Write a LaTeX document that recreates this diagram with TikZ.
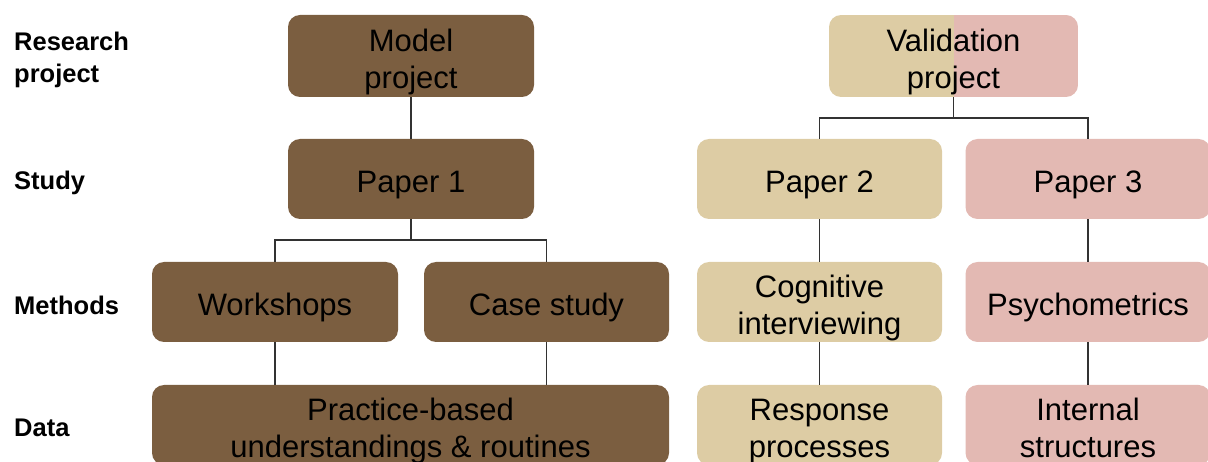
\documentclass[tikz,border=0pt]{standalone}
\usepackage{fontspec}
\setmainfont{Liberation Sans}
\definecolor{brownbox}{RGB}{123,94,64}
\definecolor{tanbox}{RGB}{221,204,164}
\definecolor{pinkbox}{RGB}{227,185,179}
\definecolor{linec}{RGB}{50,50,50}
\tikzset{
  box/.style={rounded corners=12pt, minimum width=245pt, minimum height=80pt,
    inner sep=2pt, align=center, text=black, text height=27.5pt, text depth=0pt,
    font=\fontsize{31}{37}\selectfont},
  two/.style={text height=64.5pt},
  bbox/.style={box, fill=brownbox},
  tbox/.style={box, fill=tanbox},
  pbox/.style={box, fill=pinkbox},
  rowlab/.style={anchor=west, align=left, inner sep=0pt,
    font=\fontsize{25.5}{32}\selectfont\bfseries},
  conn/.style={draw=linec, line width=1.3pt},
}
\begin{document}
\begin{tikzpicture}[x=1pt,y=-1pt]
\useasboundingbox (0,0) rectangle (1208,462);
% row labels
\node[rowlab] (lrp) at (14,60) {Research\\project};
\node[rowlab] (lst) at (14,183) {Study};
\node[rowlab] (lme) at (14,305) {Methods};
\node[rowlab] (lda) at (14,428) {Data};
% boxes
\node[bbox, two, minimum width=246pt, minimum height=82pt] (mp) at (411,56) {Model\\project};
\node[box, two, minimum width=249pt, minimum height=82pt,
  path picture={
    \fill[tanbox, sharp corners] (path picture bounding box.south west) rectangle (path picture bounding box.north);
    \fill[pinkbox, sharp corners] (path picture bounding box.south) rectangle (path picture bounding box.north east);
  }] (vp) at (953.5,56) {Validation\\project};
\node[bbox, minimum width=246pt] (p1) at (411,179) {Paper 1};
\node[tbox] (p2) at (819.5,179) {Paper 2};
\node[pbox] (p3) at (1088,179) {Paper 3};
\node[bbox, minimum width=246pt] (ws) at (275,302) {Workshops};
\node[bbox] (cs) at (546.5,302) {Case study};
\node[tbox, two] (ci) at (819.5,302) {Cognitive\\interviewing};
\node[pbox] (ps) at (1088,302) {Psychometrics};
\node[bbox, two, minimum width=517pt] (pb) at (410.5,425) {Practice-based\\understandings \& routines};
\node[tbox, two] (rp) at (819.5,425) {Response\\processes};
\node[pbox, two] (is) at (1088,425) {Internal\\structures};
% connectors
\draw[conn] (mp.south) -- (p1.north);
\coordinate (j1) at (411,240);
\draw[conn] (p1.south) -- (j1) -| (ws.north);
\draw[conn] (j1) -| (cs.north);
\coordinate (j2) at (953.5,118);
\draw[conn] (vp.south) -- (j2) -| (p2.north);
\draw[conn] (j2) -| (p3.north);
\draw[conn] (p2.south) -- (ci.north);
\draw[conn] (p3.south) -- (ps.north);
\draw[conn] (ci.south) -- (rp.north);
\draw[conn] (ps.south) -- (is.north);
\draw[conn] (ws.south) -- (ws.south |- pb.north);
\draw[conn] (cs.south) -- (cs.south |- pb.north);
\end{tikzpicture}
\end{document}
